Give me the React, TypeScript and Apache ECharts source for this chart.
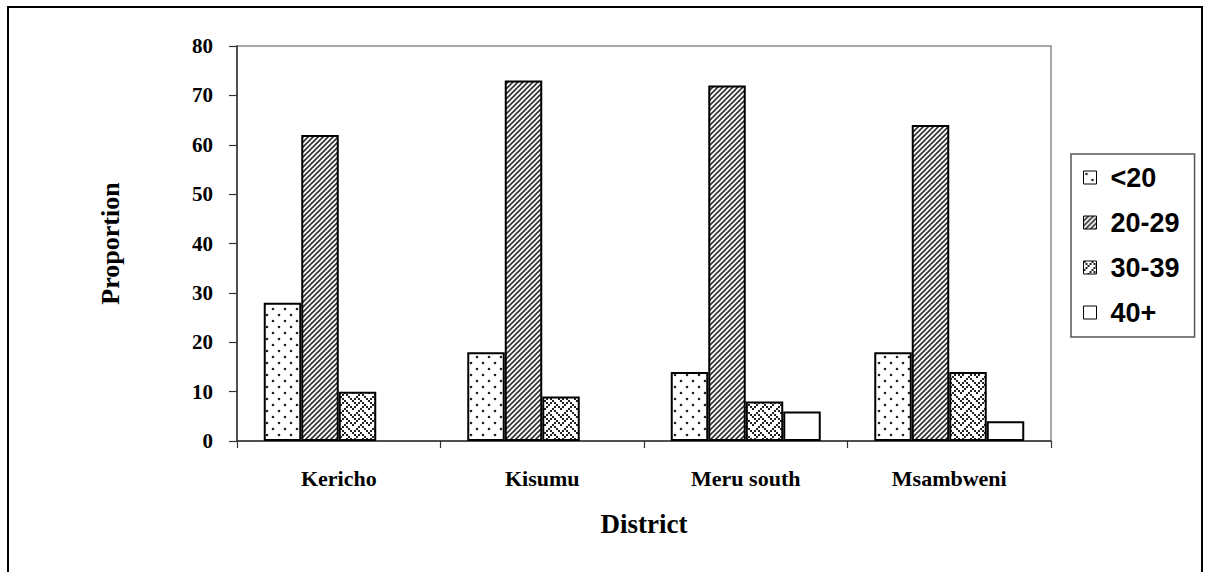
import React, { useEffect, useRef } from 'react';
import * as echarts from 'echarts';

const districts = ['Kericho', 'Kisumu', 'Meru south', 'Msambweni'];
const ageGroups = ['<20', '20-29', '30-39', '40+'];
const under20 = [28, 18, 14, 18];
const age20to29 = [62, 73, 72, 64];
const age30to39 = [10, 9, 8, 14];
const age40plus: (number | null)[] = [null, null, 6, 4];
const yMin = 0;
const yMax = 80;
const yStep = 10;

// 8x8 bitmap of a "weave" fill pattern
const weaveBits = [0x88, 0x54, 0x22, 0x45, 0x88, 0x14, 0x22, 0x51];

function makeCanvas(w: number, h: number) {
  const c = document.createElement('canvas');
  c.width = w;
  c.height = h;
  const g = c.getContext('2d') as CanvasRenderingContext2D;
  g.fillStyle = '#ffffff';
  g.fillRect(0, 0, w, h);
  return { c, g };
}

function line(g: CanvasRenderingContext2D, x1: number, y1: number, x2: number, y2: number) {
  g.beginPath();
  g.moveTo(x1, y1);
  g.lineTo(x2, y2);
  g.stroke();
}

function dotsPattern() {
  const { c, g } = makeCanvas(12, 12);
  g.fillStyle = '#222';
  [[3, 3], [9, 9]].forEach(([x, y]) => {
    g.beginPath();
    g.arc(x, y, 1.3, 0, Math.PI * 2);
    g.fill();
  });
  return c;
}

function diagPattern() {
  const { c, g } = makeCanvas(5, 5);
  g.strokeStyle = '#333';
  g.lineWidth = 1.7;
  line(g, -1, 6, 6, -1);
  line(g, -6, 6, 1, -1);
  line(g, 4, 6, 11, -1);
  return c;
}

function weavePattern() {
  const s = 2;
  const { c, g } = makeCanvas(8 * s, 8 * s);
  g.fillStyle = '#222';
  weaveBits.forEach((row, y) => {
    for (let x = 0; x < 8; x++) {
      if (row & (0x80 >> x)) g.fillRect(x * s, y * s, s, s);
    }
  });
  return c;
}

export default function App() {
  const ref = useRef<HTMLDivElement>(null);
  useEffect(() => {
    if (!ref.current) return;
    const chart = echarts.init(ref.current, null, { renderer: 'svg' });
    const fills: any[] = [
      { image: dotsPattern(), repeat: 'repeat' },
      { image: diagPattern(), repeat: 'repeat' },
      { image: weavePattern(), repeat: 'repeat' },
      '#ffffff',
    ];
    const values = [under20, age20to29, age30to39, age40plus];
    const serif = '"Liberation Serif", "Times New Roman", serif';
    const sans = '"Liberation Sans", Arial, sans-serif';
    chart.setOption({
      animation: false,
      backgroundColor: '#ffffff',
      graphic: [
        {
          type: 'rect',
          silent: true,
          z: -10,
          shape: { x: 8, y: 7, width: 1194, height: 600 },
          style: { fill: 'none', stroke: '#000', lineWidth: 2 },
        },
      ],
      grid: {
        left: 237,
        top: 46,
        right: 160,
        bottom: 131,
        show: true,
        borderColor: '#8a8a8a',
        borderWidth: 1.5,
        backgroundColor: 'transparent',
      },
      legend: {
        orient: 'vertical',
        left: 1071,
        top: 154,
        padding: [10, 15, 11, 12],
        itemWidth: 13,
        itemHeight: 13,
        itemGap: 18,
        borderColor: '#555',
        borderWidth: 1.5,
        icon: 'rect',
        itemStyle: { borderColor: '#000', borderWidth: 1 },
        textStyle: {
          fontFamily: sans,
          fontWeight: 'bold',
          fontSize: 27,
          color: '#000',
          padding: [0, 0, 0, 9],
        },
        data: ageGroups,
      },
      xAxis: {
        type: 'category',
        data: districts,
        name: 'District',
        nameLocation: 'middle',
        nameGap: 69,
        nameTextStyle: { fontFamily: serif, fontWeight: 'bold', fontSize: 27, color: '#000' },
        axisLine: { lineStyle: { color: '#333', width: 1.5 } },
        axisTick: { show: true, length: 7, lineStyle: { color: '#333', width: 1.2 } },
        axisLabel: { fontFamily: serif, fontWeight: 'bold', fontSize: 22, color: '#000', margin: 26 },
      },
      yAxis: {
        type: 'value',
        min: yMin,
        max: yMax,
        interval: yStep,
        name: 'Proportion',
        nameLocation: 'middle',
        nameGap: 114,
        nameTextStyle: { fontFamily: serif, fontWeight: 'bold', fontSize: 26, color: '#000' },
        axisLine: { show: true, lineStyle: { color: '#333', width: 1.5 } },
        axisTick: { show: true, length: 8, lineStyle: { color: '#333', width: 1.2 } },
        splitLine: { show: false },
        axisLabel: { fontFamily: serif, fontWeight: 'bold', fontSize: 21, color: '#000', margin: 24 },
      },
      series: ageGroups.map((name, i) => ({
        name,
        type: 'bar',
        data: values[i],
        barWidth: 37.5,
        barGap: '0%',
        itemStyle: { color: fills[i], borderColor: '#000', borderWidth: 2 },
      })),
    });
    return () => chart.dispose();
  }, []);
  return (
    <div
      ref={ref}
      style={{ position: 'absolute', left: 0, top: 0, width: 1211, height: 572, background: '#fff' }}
    />
  );
}
